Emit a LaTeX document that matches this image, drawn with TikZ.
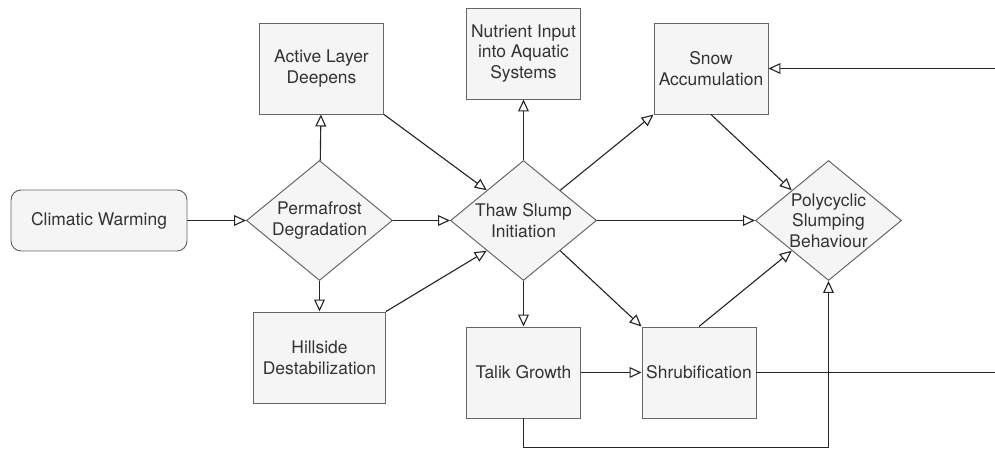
\documentclass[tikz,border=0pt]{standalone}
\usepackage{fontspec}
\setmainfont{TeX Gyre Heros}
\usepackage{tikz}
\usetikzlibrary{shapes.geometric, arrows.meta}
\definecolor{boxfill}{HTML}{F5F5F5}
\definecolor{boxline}{HTML}{666666}
\definecolor{boxtext}{HTML}{333333}
\tikzset{
    box/.style={draw=boxline, fill=boxfill, text=boxtext, line width=0.7pt, inner sep=0pt,
        minimum width=2.85cm, minimum height=2.275cm, align=center,
        font=\fontsize{12.4pt}{14.7pt}\selectfont},
    roundbox/.style={box, rounded corners=0.25cm, minimum width=4.4cm, minimum height=1.525cm},
    dtext/.style={align=center, text=boxtext, inner sep=0pt, font=\fontsize{12.4pt}{14.7pt}\selectfont},
    decision/.style={box, shape=diamond, minimum width=3.65cm, minimum height=3cm, label={[dtext]center:#1}},
    flow/.style={draw=black!85, line width=0.8pt, -{Triangle[open, length=0.3cm, width=0.27cm]}},
    plainline/.style={draw=black!85, line width=0.8pt},
}
\begin{document}
\begin{tikzpicture}
    \useasboundingbox (0,0) rectangle (24.875,11.225);

    \node[roundbox] (warming) at (2.475,5.7125) {Climatic Warming};
    \node[decision={Permafrost\\Degradation}] (perma) at (7.9875,5.7125) {};
    \node[box, minimum width=3.1cm] (active) at (8.0375,9.5125) {Active Layer\\Deepens};
    \node[box, minimum width=3.3cm] (hill) at (7.9875,2.2875) {Hillside\\Destabilization};

    \node[decision={Thaw Slump\\Initiation}] (thaw) at (13.0875,5.7125) {};
    \node[box] (nutrient) at (13.0875,9.8875) {Nutrient Input\\into Aquatic\\Systems};
    \node[box] (talik) at (13.0875,1.9125) {Talik Growth};

    \node[box] (snow) at (17.775,9.5125) {Snow\\Accumulation};
    \node[box] (shrub) at (17.475,1.9125) {Shrubification};
    \node[decision={Polycyclic\\Slumping\\Behaviour}] (poly) at (20.7125,5.7125) {};

    \coordinate (snowin) at (24.875,9.5125);
    \coordinate (shrubout) at (24.875,1.9125);
    \coordinate (loop) at (13.0875,0.03);

    \draw[flow] (warming) -- (perma);
    \draw[flow] (perma) -- (active);
    \draw[flow] (perma) -- (hill);
    \draw[flow] (perma) -- (thaw);
    \draw[flow] (active.south east) -- (thaw.north west);
    \draw[flow] (hill.north east) -- (thaw.south west);

    \draw[flow] (thaw) -- (nutrient);
    \draw[flow] (thaw) -- (talik);
    \draw[flow] (thaw) -- (poly);
    \draw[flow] (thaw.north east) -- (snow.south west);
    \draw[flow] (thaw.south east) -- (shrub.north west);
    \draw[flow] (talik) -- (shrub);

    \draw[flow] (snow.south) -- (poly.north west);
    \draw[flow] (shrub.north) -- (poly.south west);
    \draw[flow] (talik.south) -- (loop) -| (poly.south);

    \draw[flow] (snowin) -- (snow.east);
    \draw[plainline] (shrub.east) -- (shrubout);
\end{tikzpicture}
\end{document}
